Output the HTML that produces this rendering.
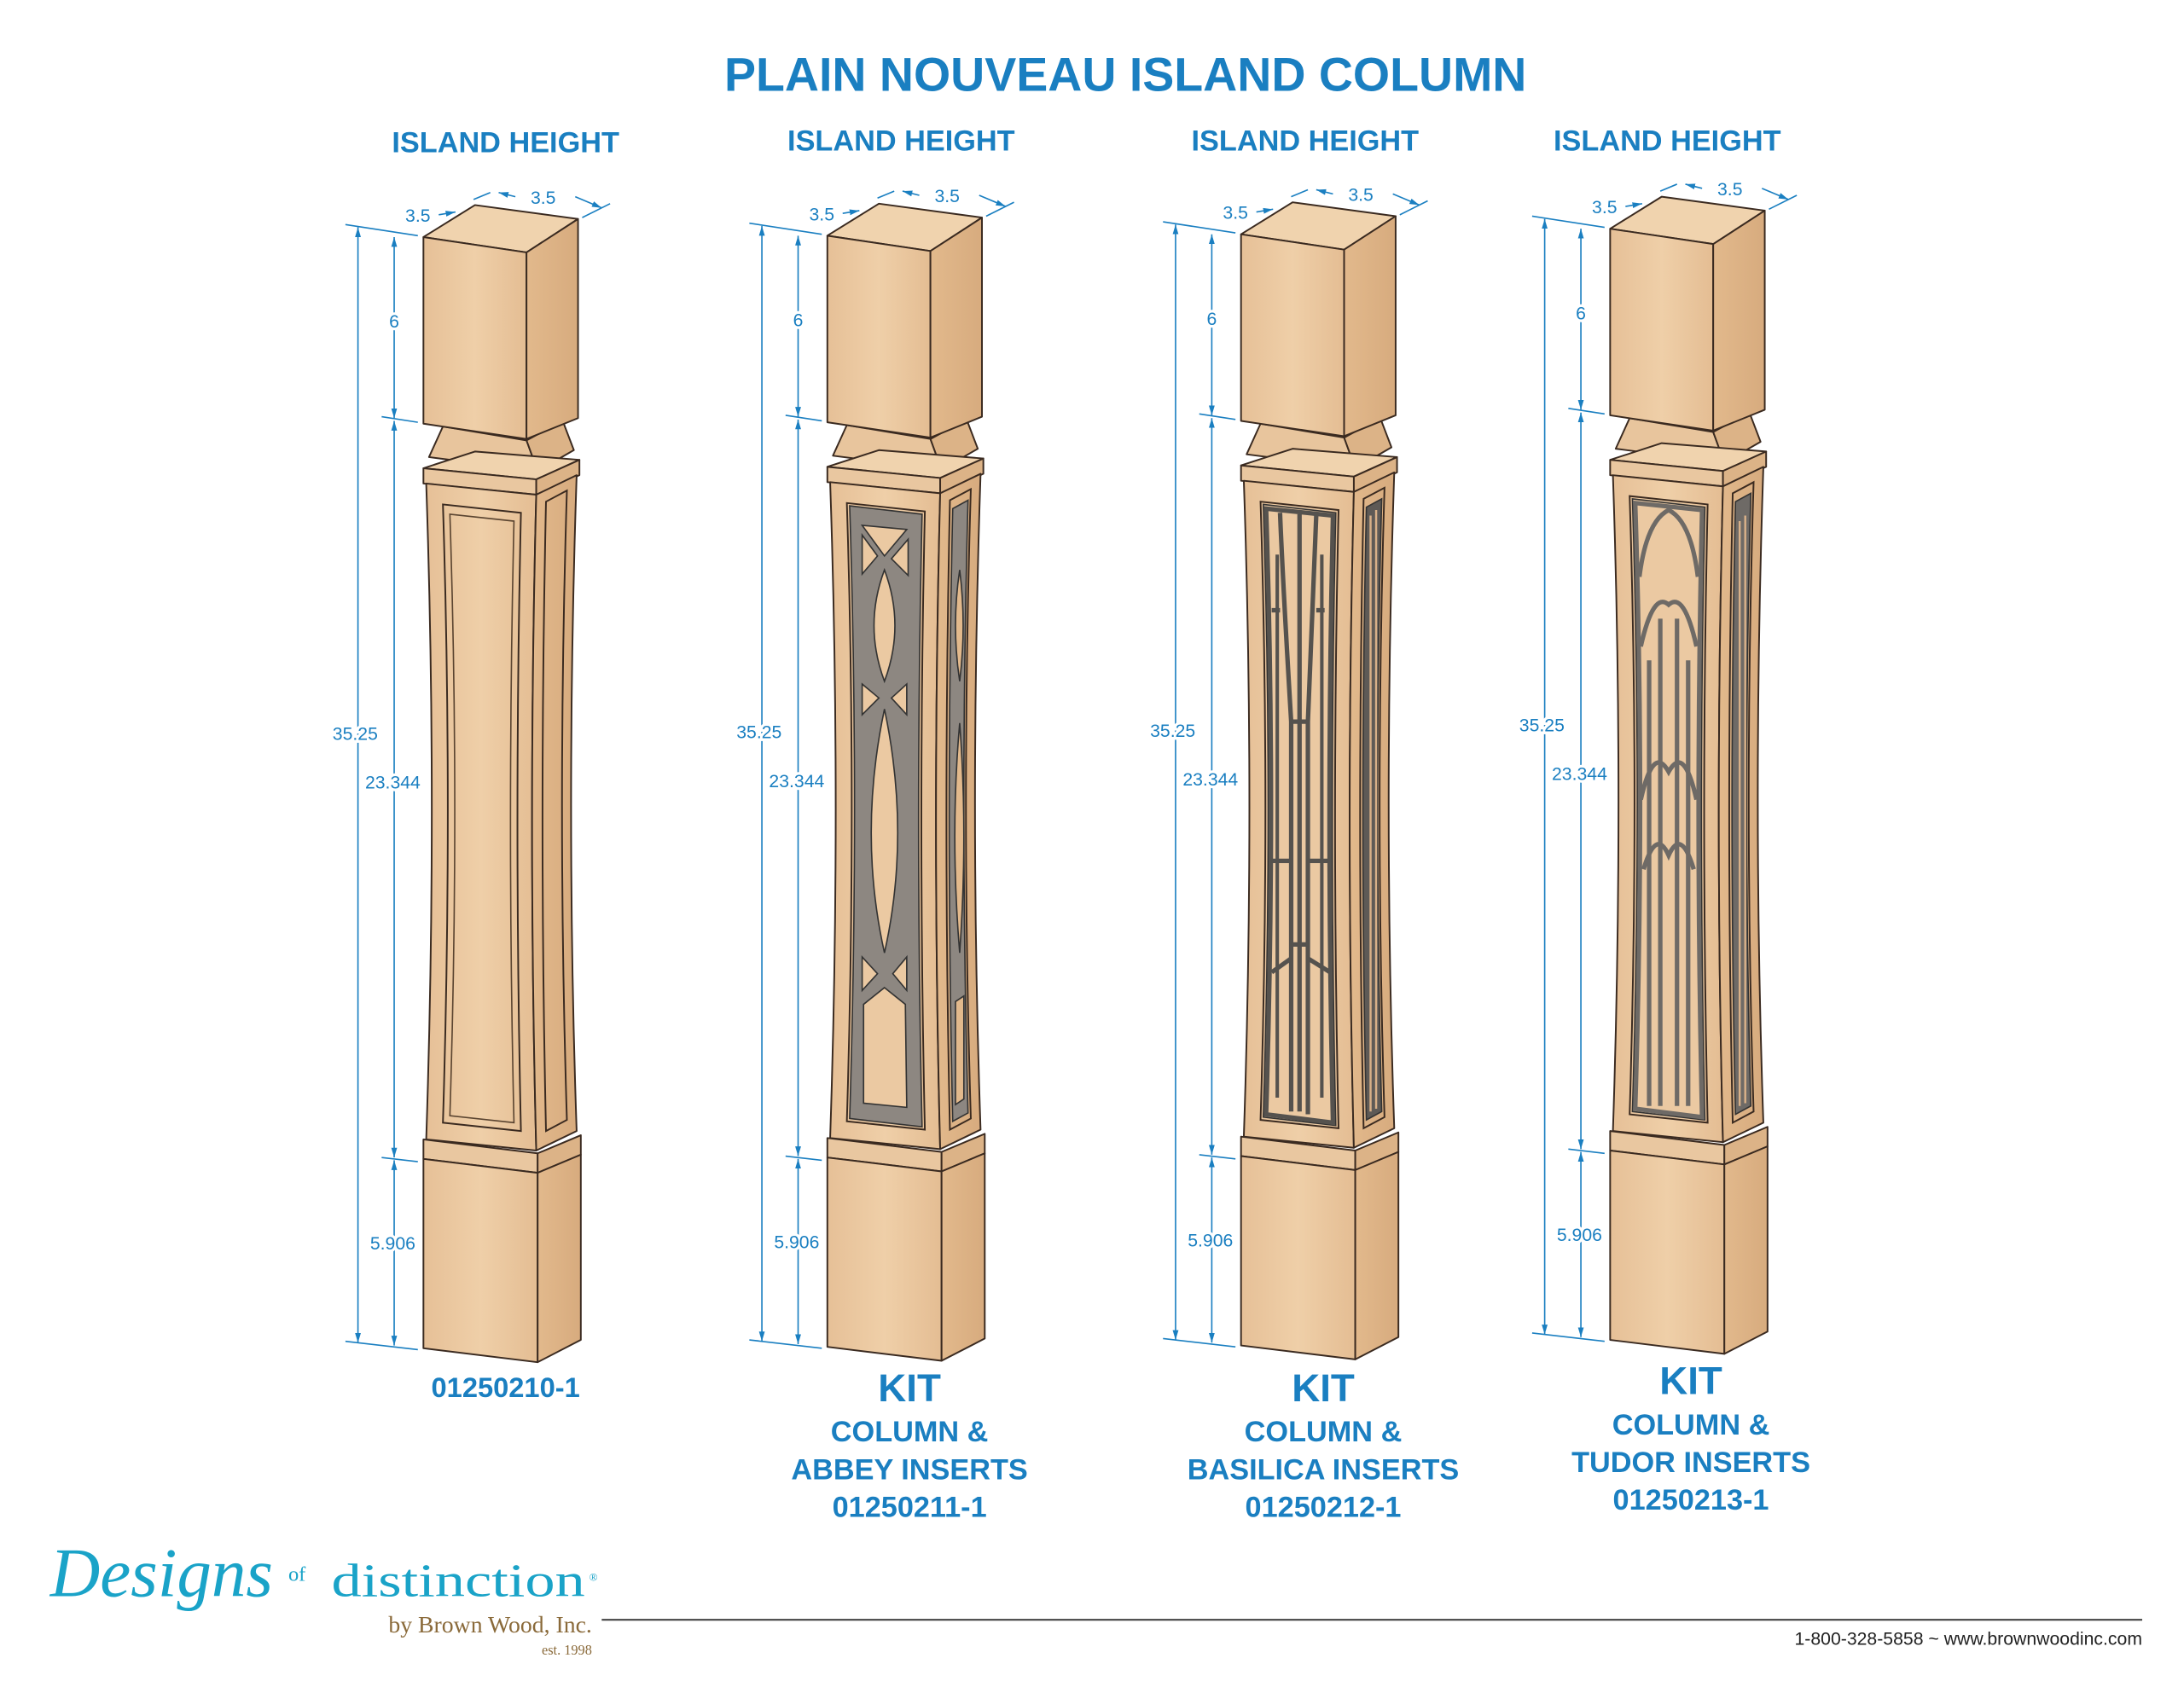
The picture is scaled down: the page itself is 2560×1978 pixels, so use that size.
<!DOCTYPE html>
<html><head><meta charset="utf-8"><style>
html,body{margin:0;padding:0;background:#fff}
svg{display:block}
text{font-family:"Liberation Sans",sans-serif}
text.sf{font-family:"Liberation Serif",serif}
</style></head><body>
<svg width="2560" height="1978" viewBox="0 0 1568 1211" xmlns="http://www.w3.org/2000/svg">
<defs>
<linearGradient id="wf" x1="0" x2="1"><stop offset="0" stop-color="#e6c097"/><stop offset=".5" stop-color="#efcfa8"/><stop offset="1" stop-color="#e4bd93"/></linearGradient>
<linearGradient id="ws" x1="0" x2="1"><stop offset="0" stop-color="#e2b98c"/><stop offset="1" stop-color="#d7ab7e"/></linearGradient>
<marker id="ar" viewBox="0 0 10 10" refX="10" refY="5" markerWidth="7" markerHeight="7" orient="auto-start-reverse"><path d="M0,2 L10,5 L0,8z" fill="#1a7fc1"/></marker>
<g id="col" stroke="#3a2a20" stroke-width="1.2" stroke-linejoin="round">
  <!-- collar -->
  <polygon points="318,306 378,316 386,338 308,328" fill="#e8c59d"/>
  <polygon points="378,316 404,302 412,323 386,338" fill="#dcb387"/>
  <!-- top block -->
  <polygon points="304,170 341,147 415,157 378,181" fill="#f0d3ae"/>
  <polygon points="304,170 378,181 378,315 304,304" fill="url(#wf)"/>
  <polygon points="378,181 415,157 415,300 378,315" fill="url(#ws)"/>
  <!-- plate -->
  <polygon points="304,336 341,324 416,330 385,344" fill="#f0d3ae"/>
  <polygon points="304,336 385,344 385,355 304,347" fill="#e9c7a0"/>
  <polygon points="385,344 416,330 416,341 385,355" fill="#dcb387"/>
  <!-- shaft -->
  <path d="M306,347 L385,355 Q379,590 385,826 L306,818 Q314,580 306,347z" fill="url(#wf)"/>
  <path d="M385,355 L414,341 Q406,580 414,812 L385,826 Q379,590 385,355z" fill="url(#ws)"/>
  <!-- base plate -->
  <polygon points="304,818 386,828 386,842 304,832" fill="#e9c7a0"/>
  <polygon points="386,828 417,815 417,829 386,842" fill="#dcb387"/>
  <!-- bottom block -->
  <polygon points="304,832 386,842 386,978 304,968" fill="url(#wf)"/>
  <polygon points="386,842 417,829 417,962 386,978" fill="url(#ws)"/>
</g>
<g id="panel" fill="none" stroke="#3a2a20" stroke-width="1.2">
  <path d="M318,362 L374,368 Q369,590 374,812 L318,806 Q325,580 318,362z"/>
  <path d="M392,360 L407,352 Q400,580 407,804 L392,812 Q387,590 392,360z"/>
</g>
<g id="dims" fill="none" stroke="#1a7fc1" stroke-width="1">
  <line x1="248" y1="161" x2="300" y2="169"/>
  <line x1="248" y1="963" x2="300" y2="969"/>
  <line x1="274" y1="299" x2="300" y2="303"/>
  <line x1="274" y1="831" x2="300" y2="834"/>
  <line x1="257" y1="163" x2="257" y2="964" marker-start="url(#ar)" marker-end="url(#ar)"/>
  <line x1="283" y1="170" x2="283" y2="300" marker-start="url(#ar)" marker-end="url(#ar)"/>
  <line x1="283" y1="302" x2="283" y2="831" marker-start="url(#ar)" marker-end="url(#ar)"/>
  <line x1="283" y1="833" x2="283" y2="966" marker-start="url(#ar)" marker-end="url(#ar)"/>
  <line x1="315" y1="154" x2="327" y2="152" marker-end="url(#ar)"/>
  <line x1="340" y1="143" x2="352" y2="138"/>
  <line x1="370" y1="141" x2="358" y2="138" marker-end="url(#ar)"/>
  <line x1="413" y1="141" x2="432" y2="149" marker-end="url(#ar)"/>
  <line x1="418" y1="156" x2="438" y2="146"/>
</g>
<g id="dimt" fill="#1a7fc1" font-size="13" text-anchor="middle" stroke="none">
  <text x="300" y="159">3.5</text><text x="390" y="146">3.5</text>
  <text x="283" y="235" style="paint-order:stroke" stroke="#fff" stroke-width="4">6</text>
  <text x="255" y="531" style="paint-order:stroke" stroke="#fff" stroke-width="4">35.25</text>
  <text x="282" y="566" style="paint-order:stroke" stroke="#fff" stroke-width="4">23.344</text>
  <text x="282" y="897" style="paint-order:stroke" stroke="#fff" stroke-width="4">5.906</text>
</g>
</defs>

<text x="808" y="65" font-size="34" font-weight="bold" fill="#1a7fc1" text-anchor="middle">PLAIN NOUVEAU ISLAND COLUMN</text>

<!-- column 1 -->
<g><use href="#dims"/><use href="#dimt"/><use href="#col"/><use href="#panel"/>
<path d="M323,369 L369,374 Q364,590 369,806 L323,801 Q330,580 323,369z" fill="none" stroke="#5a4430" stroke-width="1"/>
</g>

<!-- column 2 Abbey -->
<g transform="translate(290,-1)"><use href="#dims"/><use href="#dimt"/><use href="#col"/><use href="#panel"/>
<path d="M320,364 L372,370 Q367,590 372,810 L320,804 Q327,580 320,364z" fill="#8d8781" stroke="#333" stroke-width="1"/>
<g fill="#ebc9a2" stroke="#333" stroke-width="1">
<path d="M329,378 L361,381 L345,400z"/><path d="M329,385 L340,400 L329,413z"/><path d="M362,388 L362,414 L350,402z"/>
<path d="M345,410 Q330,450 345,490 Q360,450 345,410z"/>
<path d="M329,492 L341,502 L329,514z"/><path d="M361,492 L361,514 L350,502z"/>
<path d="M345,510 Q326,600 345,685 Q364,600 345,510z"/>
<path d="M329,688 L340,700 L329,712z"/><path d="M361,688 L361,712 L351,700z"/>
<path d="M345,710 L360,722 L361,796 L330,793 L330,722z"/>
</g>
<path d="M394,366 L405,360 Q399,580 405,800 L394,806 Q389,590 394,366z" fill="#8d8781" stroke="#333" stroke-width="1"/>
<path d="M399,410 Q393,450 399,490 Q404,450 399,410z M399,520 Q392,600 399,685 Q405,600 399,520z M396,720 L402,716 L402,790 L396,794z" fill="#e2b98c" stroke="#333" stroke-width="1"/>
</g>

<!-- column 3 Basilica -->
<g transform="translate(587,-2)"><use href="#dims"/><use href="#dimt"/><use href="#col"/><use href="#panel"/>
<path d="M320,364 L372,370 Q367,590 372,810 L320,804 Q327,580 320,364z" fill="#ebc9a2" stroke="#333" stroke-width="1"/>
<g fill="none" stroke="#55524e" stroke-width="3.2">
<path d="M322,367 L370,372 Q365,590 370,808 L322,802 Q329,580 322,367z"/>
<path d="M332,370 Q334,420 340,520 L340,800"/><path d="M346,371 L346,800"/><path d="M358,372 Q356,420 352,520 L352,802"/>
<path d="M326,440 L332,440 M364,440 L358,440 M340,520 L352,520 M340,680 L352,680 M326,620 L340,620 M352,620 L368,620 M326,700 L340,690 M352,690 L368,700"/>
<path d="M330,400 L330,790 M362,400 L362,790" stroke-width="2.5"/>
</g>
<path d="M394,366 L405,360 Q399,580 405,800 L394,806 Q389,590 394,366z" fill="#5e5a56" stroke="#333" stroke-width="1"/>
<g stroke="#d8b088" stroke-width="1.5"><line x1="397" y1="372" x2="397" y2="800"/><line x1="401" y1="368" x2="401" y2="798"/></g>
</g>

<!-- column 4 Tudor -->
<g transform="translate(852,-6)"><use href="#dims"/><use href="#dimt"/><use href="#col"/><use href="#panel"/>
<path d="M320,364 L372,370 Q367,590 372,810 L320,804 Q327,580 320,364z" fill="#ebc9a2" stroke="#333" stroke-width="1"/>
<g fill="none" stroke="#6e6a66" stroke-width="3.2">
<path d="M322,367 L370,372 Q365,590 370,808 L322,802 Q329,580 322,367z"/>
<path d="M325,420 Q330,380 346,372 Q362,380 367,420"/>
<path d="M326,470 Q335,430 346,440 Q357,430 366,470"/>
<path d="M340,450 L340,800 M352,450 L352,800 M332,480 L332,800 M360,480 L360,800"/>
<path d="M326,580 Q335,540 346,560 Q357,540 366,580"/>
<path d="M328,630 Q337,600 346,620 Q355,600 364,630"/>
</g>
<path d="M394,366 L405,360 Q399,580 405,800 L394,806 Q389,590 394,366z" fill="#6e6a66" stroke="#333" stroke-width="1"/>
<g stroke="#d8b088" stroke-width="1.5"><line x1="397" y1="380" x2="397" y2="800"/><line x1="401" y1="376" x2="401" y2="798"/></g>
</g>

<g font-weight="bold" fill="#1a7fc1" text-anchor="middle">
<text x="363" y="109" font-size="21">ISLAND HEIGHT</text>
<text x="647" y="108" font-size="21">ISLAND HEIGHT</text>
<text x="937" y="108" font-size="21">ISLAND HEIGHT</text>
<text x="1197" y="108" font-size="21">ISLAND HEIGHT</text>
<text x="363" y="1003" font-size="20">01250210-1</text>
<text x="653" y="1006" font-size="28">KIT</text>
<text x="653" y="1035" font-size="21">COLUMN &amp;</text>
<text x="653" y="1062" font-size="21">ABBEY INSERTS</text>
<text x="653" y="1089" font-size="21">01250211-1</text>
<text x="950" y="1006" font-size="28">KIT</text>
<text x="950" y="1035" font-size="21">COLUMN &amp;</text>
<text x="950" y="1062" font-size="21">BASILICA INSERTS</text>
<text x="950" y="1089" font-size="21">01250212-1</text>
<text x="1214" y="1001" font-size="28">KIT</text>
<text x="1214" y="1030" font-size="21">COLUMN &amp;</text>
<text x="1214" y="1057" font-size="21">TUDOR INSERTS</text>
<text x="1214" y="1084" font-size="21">01250213-1</text>
</g>

<!-- logo -->
<text class="sf" x="36" y="1146" font-style="italic" font-size="50" fill="#1aa3c8" textLength="160" lengthAdjust="spacingAndGlyphs">Designs</text>
<text class="sf" x="207" y="1135" font-size="15" fill="#1aa3c8">of</text>
<text class="sf" x="238" y="1146" font-size="34" fill="#1aa3c8" textLength="182" lengthAdjust="spacingAndGlyphs">distinction</text>
<text class="sf" x="423" y="1135" font-size="8" fill="#1aa3c8">®</text>
<text class="sf" x="425" y="1172" font-size="17" fill="#8a6a3a" text-anchor="end">by Brown Wood, Inc.</text>
<text class="sf" x="425" y="1188" font-size="10" fill="#8a6a3a" text-anchor="end">est. 1998</text>
<line x1="432" y1="1163" x2="1538" y2="1163" stroke="#444" stroke-width="1.3"/>
<text x="1538" y="1181" font-size="13" fill="#222" text-anchor="end">1-800-328-5858 ~ www.brownwoodinc.com</text>
</svg>
</body></html>
